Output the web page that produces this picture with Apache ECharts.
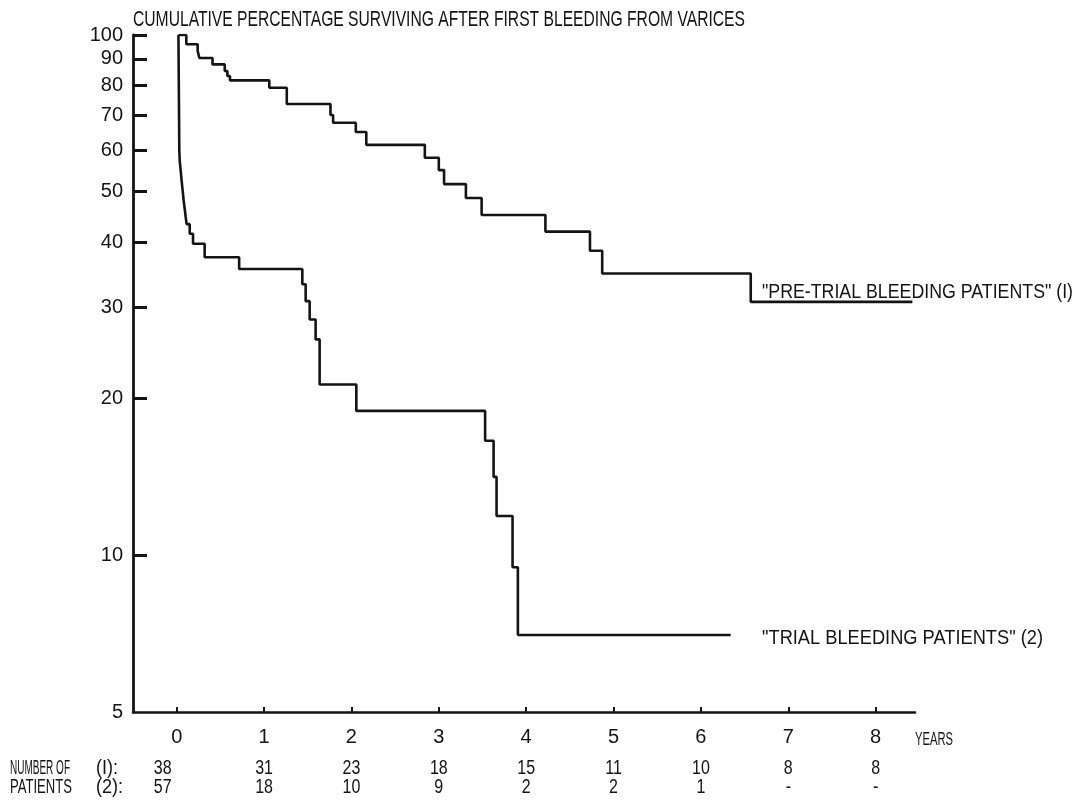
<!DOCTYPE html>
<html><head><meta charset="utf-8">
<script src="https://cdn.jsdelivr.net/npm/echarts@6/dist/echarts.min.js"></script>
<style>html,body{margin:0;padding:0;background:#fff}#c{width:1077px;height:805px}</style>
</head><body><div id="c"></div>
<script>
// ---- data ----
const titleText = 'CUMULATIVE PERCENTAGE SURVIVING AFTER FIRST BLEEDING FROM VARICES';
const xTickYears = [0, 1, 2, 3, 4, 5, 6, 7, 8];
const yTickValues = [10, 20, 30, 40, 50, 60, 70, 80, 90, 100];
const yLabelValues = [5, 10, 20, 30, 40, 50, 60, 70, 80, 90, 100];

const preTrialName = '"PRE-TRIAL BLEEDING PATIENTS" (I)';
const preTrialYears = [0.02, 0.11, 0.24, 0.26, 0.41, 0.55, 0.58, 0.61, 1.06, 1.26, 1.76, 1.79, 2.05, 2.17, 2.84, 3.00, 3.06, 3.31, 3.49, 4.22, 4.73, 4.87, 6.57, 8.42];
const preTrialSurvival = [100, 96.0, 93.2, 90.3, 87.8, 85.3, 83.4, 81.8, 79.2, 73.7, 70.2, 67.8, 65.1, 61.5, 58.1, 55.0, 51.7, 48.6, 45.1, 41.9, 38.5, 34.8, 30.7, 30.7];

const trialName = '"TRIAL BLEEDING PATIENTS" (2)';
const trialYears = [0.02, 0.03, 0.035, 0.046, 0.057, 0.069, 0.080, 0.092, 0.103, 0.114, 0.149, 0.187, 0.320, 0.715, 1.438, 1.476, 1.522, 1.590, 1.636, 2.056, 3.530, 3.627, 3.661, 3.844, 3.905, 6.34];
const trialSurvival = [100, 59.9, 57.3, 54.8, 52.4, 50.1, 48.0, 46.3, 44.7, 43.3, 41.5, 39.7, 37.4, 35.5, 33.2, 30.8, 28.4, 26.0, 21.3, 18.95, 16.6, 14.15, 11.9, 9.49, 7.03, 7.03];

const tableYears = [0, 1, 2, 3, 4, 5, 6, 7, 8];
const preTrialAtRisk = [38, 31, 23, 18, 15, 11, 10, 8, 8];
const trialAtRisk = [57, 18, 10, 9, 2, 2, 1, null, null];
const tableRowTitles = ['NUMBER OF', 'PATIENTS'];
const tableRowKeys = ['(I):', '(2):'];

// ---- styling ----
const FAM = "'Liberation Sans Narrow','Liberation Sans',Arial,sans-serif";
const INK = '#141414';
const mctx = document.createElement('canvas').getContext('2d');
function fitScale(text, font, width) {
  mctx.font = font;
  const w = mctx.measureText(text).width;
  return w > 0 ? width / w : 1;
}
function fittedText(text, x, y, width, size, align) {
  const font = size + 'px ' + FAM;
  return {
    type: 'text', x: x, y: y, scaleX: fitScale(text, font, width), silent: true,
    style: { text: text, font: font, fill: INK, textAlign: align || 'left', textVerticalAlign: 'middle' }
  };
}
function narrowText(text, x, y, size, sx, align) {
  return {
    type: 'text', x: x, y: y, scaleX: sx, silent: true,
    style: { text: text, font: size + 'px ' + FAM, fill: INK, textAlign: align || 'left', textVerticalAlign: 'middle' }
  };
}
function zip(xs, ys) { return xs.map((x, i) => [x, ys[i]]); }

const chart = echarts.init(document.getElementById('c'), null, { renderer: 'canvas' });
const lineStyle = { color: INK, width: 2.6 };
chart.setOption({
  animation: false,
  backgroundColor: '#fff',
  grid: { left: 133, right: 162, top: 35, bottom: 93, outerBoundsMode: 'none', containLabel: false },
  xAxis: {
    type: 'value', min: -0.5, max: 8.45,
    axisLine: { show: true, onZero: false, lineStyle: { color: INK, width: 2.6 } },
    axisTick: { show: true, inside: true, length: 5, customValues: xTickYears, lineStyle: { color: INK, width: 2 } },
    axisLabel: { customValues: xTickYears, margin: 15, color: INK, fontFamily: FAM, fontSize: 20 },
    splitLine: { show: false }
  },
  yAxis: {
    type: 'log', logBase: 10, min: 5, max: 100,
    axisLine: { show: true, onZero: false, lineStyle: { color: INK, width: 2.8 } },
    axisTick: { show: true, inside: true, length: 14, customValues: yTickValues, lineStyle: { color: INK, width: 3 } },
    axisLabel: { customValues: yLabelValues, margin: 10, color: INK, fontFamily: FAM, fontSize: 20 },
    splitLine: { show: false }
  },
  series: [
    { name: preTrialName, type: 'line', step: 'end', showSymbol: false, data: zip(preTrialYears, preTrialSurvival), lineStyle: lineStyle, z: 3 },
    { name: trialName, type: 'line', step: 'end', showSymbol: false, data: zip(trialYears, trialSurvival), lineStyle: lineStyle, z: 3 }
  ]
});

// ---- texts ----
const g = [];
g.push(fittedText(titleText, 133, 20, 612, 22));
g.push(fittedText(preTrialName, 762, 292, 311, 21));
g.push(fittedText(trialName, 762, 638, 281, 21));
g.push(fittedText('YEARS', 915, 740, 38, 19));
g.push(fittedText(tableRowTitles[0], 10, 768, 60, 20));
g.push(fittedText(tableRowTitles[1], 10, 787, 62, 20));
g.push(narrowText(tableRowKeys[0], 96, 768, 20, 0.9));
g.push(narrowText(tableRowKeys[1], 96, 787, 20, 0.9));
tableYears.forEach((yr, i) => {
  const px = chart.convertToPixel({ xAxisIndex: 0 }, yr) + (i === 0 ? -14 : 0);
  const a = preTrialAtRisk[i], b = trialAtRisk[i];
  g.push(narrowText(String(a), px, 768, 20, 0.8, 'center'));
  g.push(narrowText(b == null ? '-' : String(b), px, 787, 20, 0.8, 'center'));
});
chart.setOption({ graphic: g });
</script>
</body></html>
